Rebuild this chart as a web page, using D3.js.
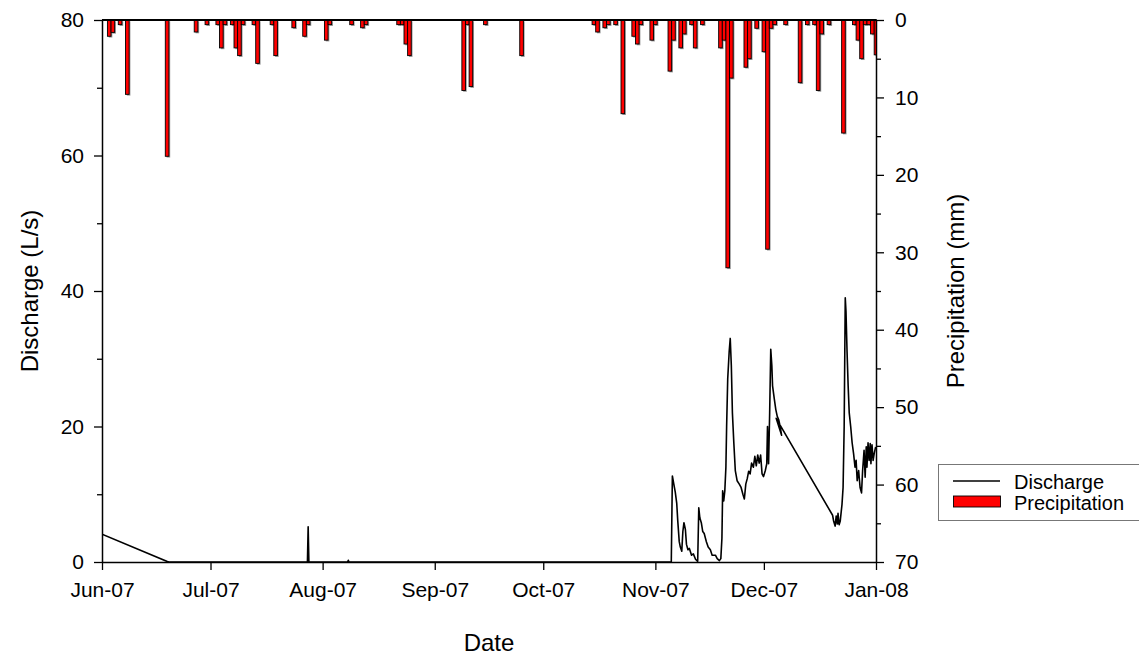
<!DOCTYPE html>
<html><head><meta charset="utf-8">
<script src="https://cdn.jsdelivr.net/npm/d3@7"></script>
<style>
body{margin:0;background:#fff}
svg{display:block}
text{font-family:Arial,"Liberation Sans",sans-serif;fill:#000}
</style>
</head><body>
<svg id="chart" width="1139" height="656"></svg>
<script>
// ---------- data ----------
const startDate = "2007-06-01";
const endDate = "2008-01-01";
const monthTicks = ["2007-06-01","2007-07-01","2007-08-01","2007-09-01","2007-10-01","2007-11-01","2007-12-01","2008-01-01"];
const dischargeTicks = [0,20,40,60,80];
const dischargeMinor = [10,30,50,70];
const precipTicks = [0,10,20,30,40,50,60,70];
const precipMinor = [5,15,25,35,45,55,65];

const precipDates = ["2007-06-03","2007-06-04","2007-06-06","2007-06-08","2007-06-19","2007-06-27","2007-06-30",
 "2007-07-03","2007-07-04","2007-07-05","2007-07-07","2007-07-08","2007-07-09","2007-07-10","2007-07-13","2007-07-14",
 "2007-07-18","2007-07-19","2007-07-24","2007-07-27","2007-07-28",
 "2007-08-02","2007-08-03","2007-08-09","2007-08-12","2007-08-13","2007-08-22","2007-08-23","2007-08-24","2007-08-25",
 "2007-09-09","2007-09-10","2007-09-11","2007-09-15","2007-09-25",
 "2007-10-15","2007-10-16","2007-10-18","2007-10-19","2007-10-21","2007-10-23","2007-10-26","2007-10-27","2007-10-28","2007-10-31",
 "2007-11-01","2007-11-05","2007-11-06","2007-11-08","2007-11-09","2007-11-11","2007-11-12","2007-11-14","2007-11-19","2007-11-20",
 "2007-11-21","2007-11-22","2007-11-26","2007-11-27","2007-11-29",
 "2007-12-01","2007-12-02","2007-12-03","2007-12-04","2007-12-07","2007-12-11","2007-12-13","2007-12-15","2007-12-16","2007-12-17",
 "2007-12-19","2007-12-23","2007-12-26","2007-12-27","2007-12-28","2007-12-29","2007-12-30","2007-12-31","2008-01-01"];
const precipMM = [2.1,1.6,0.6,9.6,17.6,1.55,0.6,
 0.6,3.6,0.6,0.6,3.6,4.6,0.6,0.6,5.6,
 0.6,4.6,1.0,2.1,0.6,
 2.6,0.6,0.6,1.0,0.6,0.6,0.6,3.1,4.6,
 9.1,0.6,8.6,0.6,4.6,
 0.6,1.55,1.0,0.6,0.6,12.1,2.1,3.1,0.6,2.6,
 0.6,6.6,2.6,3.6,1.8,0.6,3.6,0.6,3.6,2.6,
 32.0,7.5,6.1,5.0,1.07,
 4.1,29.6,1.07,0.6,0.6,8.1,0.6,0.6,9.1,1.8,
 0.6,14.6,0.6,2.6,5.0,0.6,0.6,1.8,4.5];

// discharge: days since 1 Jun 2007, value in L/s
const dischargeDays = [0,17.9,18.5,56.8,57.0,57.2,67.9,68.1,68.3,157.4,
 157.7,158.1,158.5,158.9,159.2,159.6,159.9,160.3,160.6,160.9,161.3,161.6,162.0,162.4,163.0,163.5,164.1,164.7,
 165.0,165.3,165.7,166.1,166.5,167.1,167.6,168.2,168.7,169.6,170.1,170.7,171.1,171.4,171.6,171.9,172.2,172.5,172.7,
 173.0,173.4,173.7,174.0,174.3,174.7,175.1,175.6,176.2,176.7,177.2,177.6,178.0,178.4,178.8,179.2,179.6,180.1,180.5,
 180.9,181.3,181.7,182.1,182.5,182.9,183.4,183.8,184.0,184.3,184.6,184.9,185.2,185.4,185.9,186.3,186.7,187.1,187.5,187.9,186.4,
 202.0,202.3,202.7,203.0,203.3,203.5,203.8,204.1,204.4,204.6,204.9,205.2,205.5,205.7,206.0,206.3,206.6,207.0,207.4,207.8,
 208.2,208.5,208.8,209.2,209.6,210.0,210.3,210.7,211.0,211.3,211.5,211.8,212.1,212.4,212.6,212.9,213.2,213.5,213.9];
const dischargeLps = [4.1,0.1,0,0,5.2,0,0,0.25,0,0,
 12.7,11.5,10.3,8.7,6.0,3.0,2.2,1.6,4.5,5.8,4.8,2.6,1.8,2.0,1.0,1.2,0.4,0.1,
 8.0,6.5,5.8,4.5,4.2,3.0,2.2,1.8,1.0,1.0,0.5,0.2,0.5,3.5,10.5,9.0,10.5,14.0,20.0,
 27.0,31.0,33.0,29.0,22.0,17.5,13.5,12.0,11.5,11.0,10.0,9.3,11.5,12.3,13.4,13.0,14.6,14.0,15.6,
 14.2,15.8,14.6,15.8,13.0,12.6,13.5,14.5,20.0,14.5,22.0,31.4,29.0,26.0,24.0,22.5,21.5,21.0,20.0,18.7,21.2,
 6.9,6.0,5.3,6.8,5.6,7.2,5.5,6.0,7.5,8.5,11.0,20.0,39.0,37.0,31.0,26.0,22.0,20.0,17.6,16.0,
 14.0,15.0,12.0,13.5,11.0,10.2,13.5,16.5,12.5,17.0,14.0,17.6,15.0,17.5,14.5,17.3,15.0,16.0,17.0];

// ---------- layout ----------
const L = 102, R = 876, T = 20, B = 562;
const parse = d3.timeParse("%Y-%m-%d");
const t0 = parse(startDate);
const svg = d3.select("#chart");

const x = d3.scaleTime().domain([t0, parse(endDate)]).range([L, R]);
const yQ = d3.scaleLinear().domain([0, 80]).range([B, T]);
const yP = d3.scaleLinear().domain([0, 70]).range([T, B]);

svg.append("defs").append("clipPath").attr("id","plot")
  .append("rect").attr("x",L).attr("y",T).attr("width",R-L).attr("height",B-T);

const gPlot = svg.append("g").attr("clip-path","url(#plot)");

// precipitation bars (hanging from top)
const bars = precipDates.map((d,i)=>({date: parse(d), mm: precipMM[i]}));
const bw = x(d3.timeDay.offset(t0,1)) - x(t0);
gPlot.append("g").selectAll("rect").data(bars).join("rect")
  .attr("x", d => x(d.date) - bw/2 + 1.3)
  .attr("y", T + 1.3)
  .attr("width", bw)
  .attr("height", d => yP(d.mm) - T)
  .attr("fill", "#9a9a9a");
gPlot.append("g").selectAll("rect").data(bars).join("rect")
  .attr("x", d => x(d.date) - bw/2)
  .attr("y", T)
  .attr("width", bw)
  .attr("height", d => yP(d.mm) - T)
  .attr("fill", "#ff0000")
  .attr("stroke", "#000")
  .attr("stroke-width", 0.9);

// discharge line
const msDay = 86400000;
const qData = dischargeDays.map((d,i)=>({date: new Date(t0.getTime() + d*msDay), v: dischargeLps[i]}));
gPlot.append("path").datum(qData)
  .attr("fill","none").attr("stroke","#000").attr("stroke-width",1.6).attr("stroke-linejoin","round")
  .attr("d", d3.line().x(d=>x(d.date)).y(d=>yQ(d.v)));

// ---------- axes ----------
const fs = "21px";
function styleAxis(g){
  g.select(".domain").attr("stroke","#000").attr("stroke-width",1.5);
  g.selectAll(".tick line").attr("stroke","#000").attr("stroke-width",1.3);
  g.selectAll("text").style("font-size",fs).style("font-family","Arial, 'Liberation Sans', sans-serif");
}
// bottom
const gx = svg.append("g").attr("transform",`translate(0,${B})`)
  .call(d3.axisBottom(x).tickValues(monthTicks.map(parse)).tickFormat(d3.timeFormat("%b-%y")).tickSizeInner(8).tickSizeOuter(0).tickPadding(12));
styleAxis(gx);
// left
const gyl = svg.append("g").attr("transform",`translate(${L},0)`)
  .call(d3.axisLeft(yQ).tickValues(dischargeTicks).tickSizeInner(8).tickSizeOuter(0).tickPadding(10));
styleAxis(gyl);
const gylm = svg.append("g").attr("transform",`translate(${L},0)`)
  .call(d3.axisLeft(yQ).tickValues(dischargeMinor).tickSizeInner(5).tickSizeOuter(0).tickFormat(""));
styleAxis(gylm); gylm.select(".domain").remove();
// right
const gyr = svg.append("g").attr("transform",`translate(${R},0)`)
  .call(d3.axisRight(yP).tickValues(precipTicks).tickSizeInner(8).tickSizeOuter(0).tickPadding(11));
styleAxis(gyr);
const gyrm = svg.append("g").attr("transform",`translate(${R},0)`)
  .call(d3.axisRight(yP).tickValues(precipMinor).tickSizeInner(5).tickSizeOuter(0).tickFormat(""));
styleAxis(gyrm); gyrm.select(".domain").remove();
// top frame
svg.append("line").attr("x1",L).attr("x2",R+0.75).attr("y1",T).attr("y2",T).attr("stroke","#000").attr("stroke-width",2.2);

// titles
svg.append("text").attr("x",(L+R)/2).attr("y",651).attr("text-anchor","middle").style("font-size","24px").text("Date");
svg.append("text").attr("transform",`translate(38,${(T+B)/2}) rotate(-90)`).attr("text-anchor","middle").style("font-size","24px").text("Discharge (L/s)");
svg.append("text").attr("transform",`translate(964,${(T+B)/2}) rotate(-90)`).attr("text-anchor","middle").style("font-size","24px").text("Precipitation (mm)");

// legend
const lg = svg.append("g");
lg.append("rect").attr("x",938.5).attr("y",464.5).attr("width",205).attr("height",56).attr("fill","#fff").attr("stroke","#777").attr("stroke-width",1);
lg.append("line").attr("x1",953).attr("x2",1000).attr("y1",481).attr("y2",481).attr("stroke","#000").attr("stroke-width",1.3);
lg.append("rect").attr("x",953.5).attr("y",496).attr("width",47).attr("height",11).attr("fill","#ff0000").attr("stroke","#000").attr("stroke-width",0.9);
lg.append("text").attr("x",1014).attr("y",488.5).style("font-size","20px").text("Discharge");
lg.append("text").attr("x",1014).attr("y",509.5).style("font-size","20px").text("Precipitation");
</script>
</body></html>
